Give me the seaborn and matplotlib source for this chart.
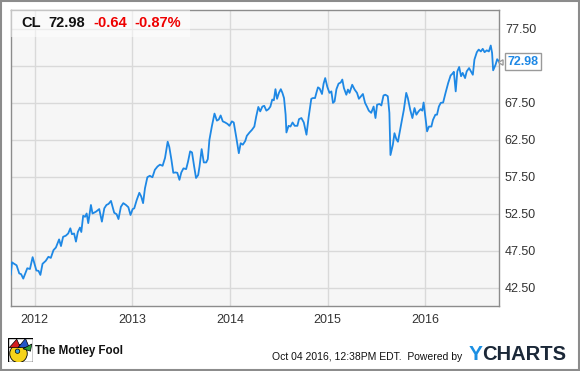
import pandas as pd
import numpy as np
import matplotlib
matplotlib.use('Agg')
import matplotlib.pyplot as plt
import matplotlib.dates as mdates
import matplotlib.patches as mpatches
import seaborn as sns

# CL (Colgate-Palmolive) weekly-ish closing price
dates = [
    '2011-10-04', '2011-10-09', '2011-10-17', '2011-10-26', '2011-11-05', '2011-11-12',
    '2011-11-20', '2011-12-05', '2011-12-15', '2011-12-25', '2012-01-08', '2012-01-16',
    '2012-01-23', '2012-01-31', '2012-02-12', '2012-02-22', '2012-03-02', '2012-03-12',
    '2012-03-21', '2012-04-02', '2012-04-09', '2012-04-17', '2012-04-27', '2012-05-06',
    '2012-05-14', '2012-05-20', '2012-05-28', '2012-06-04', '2012-06-11', '2012-06-19',
    '2012-06-24', '2012-07-01', '2012-07-08', '2012-07-14', '2012-07-20', '2012-07-30',
    '2012-08-05', '2012-08-18', '2012-08-30', '2012-09-09', '2012-09-18', '2012-09-26',
    '2012-10-04', '2012-10-13', '2012-10-19', '2012-10-25', '2012-11-03', '2012-11-10',
    '2012-11-19', '2012-11-28', '2012-12-08', '2012-12-17', '2012-12-25', '2013-01-02',
    '2013-01-08', '2013-01-17', '2013-01-27', '2013-02-03', '2013-02-10', '2013-02-17',
    '2013-02-26', '2013-03-07', '2013-03-17', '2013-03-26', '2013-04-05', '2013-04-14',
    '2013-04-24', '2013-05-03', '2013-05-13', '2013-05-19', '2013-05-27', '2013-06-03',
    '2013-06-11', '2013-06-18', '2013-06-26', '2013-07-03', '2013-07-11', '2013-07-21',
    '2013-07-28', '2013-08-05', '2013-08-12', '2013-08-20', '2013-08-27', '2013-09-04',
    '2013-09-09', '2013-09-17', '2013-09-25', '2013-10-04', '2013-10-10', '2013-10-16',
    '2013-10-25', '2013-11-04', '2013-11-13', '2013-11-20', '2013-11-27', '2013-12-05',
    '2013-12-14', '2013-12-23', '2013-12-30', '2014-01-08', '2014-01-15', '2014-01-24',
    '2014-02-03', '2014-02-10', '2014-02-18', '2014-02-27', '2014-03-05', '2014-03-15',
    '2014-03-24', '2014-04-02', '2014-04-09', '2014-04-17', '2014-04-24', '2014-05-02',
    '2014-05-09', '2014-05-17', '2014-05-25', '2014-06-01', '2014-06-08', '2014-06-14',
    '2014-06-20', '2014-06-26', '2014-07-03', '2014-07-10', '2014-07-16', '2014-07-22',
    '2014-07-28', '2014-07-31', '2014-08-08', '2014-08-15', '2014-08-23', '2014-08-31',
    '2014-09-10', '2014-09-16', '2014-09-25', '2014-10-04', '2014-10-14', '2014-10-22',
    '2014-11-01', '2014-11-07', '2014-11-15', '2014-11-20', '2014-11-26', '2014-12-02',
    '2014-12-11', '2014-12-17', '2014-12-23', '2014-12-31', '2015-01-08', '2015-01-15',
    '2015-01-21', '2015-01-27', '2015-02-03', '2015-02-11', '2015-02-19', '2015-02-25',
    '2015-03-03', '2015-03-12', '2015-03-18', '2015-03-24', '2015-04-03', '2015-04-12',
    '2015-04-21', '2015-04-28', '2015-05-06', '2015-05-13', '2015-05-21', '2015-05-28',
    '2015-06-04', '2015-06-13', '2015-06-22', '2015-06-29', '2015-07-05', '2015-07-14',
    '2015-07-21', '2015-07-29', '2015-08-05', '2015-08-14', '2015-08-20', '2015-08-24',
    '2015-09-02', '2015-09-08', '2015-09-15', '2015-09-21', '2015-09-27', '2015-10-06',
    '2015-10-13', '2015-10-22', '2015-10-28', '2015-11-06', '2015-11-14', '2015-11-22',
    '2015-11-29', '2015-12-07', '2015-12-15', '2015-12-21', '2015-12-26', '2016-01-02',
    '2016-01-08', '2016-01-15', '2016-01-24', '2016-01-30', '2016-02-08', '2016-02-14',
    '2016-02-21', '2016-02-28', '2016-03-08', '2016-03-17', '2016-03-27', '2016-04-05',
    '2016-04-12', '2016-04-17', '2016-04-24', '2016-04-30', '2016-05-07', '2016-05-14',
    '2016-05-20', '2016-05-29', '2016-06-04', '2016-06-13', '2016-06-20', '2016-06-27',
    '2016-07-03', '2016-07-12', '2016-07-19', '2016-07-27', '2016-08-03', '2016-08-10',
    '2016-08-18', '2016-08-26', '2016-09-02', '2016-09-07', '2016-09-11', '2016-09-20',
    '2016-09-26', '2016-10-04',
]
prices = [
    44.2, 45.9, 45.7, 45.5, 44.4, 44.3,
    43.7, 45.1, 45.0, 46.6, 44.8, 44.75,
    44.2, 45.7, 46.1, 46.65, 46.5, 47.55,
    47.9, 49.0, 48.1, 49.35, 49.5, 49.8,
    50.5, 49.7, 49.8, 48.7, 50.0, 50.6,
    50.0, 52.2, 52.05, 52.5, 51.2, 53.65,
    52.5, 52.75, 53.1, 51.4, 53.2, 53.65,
    53.8, 54.2, 53.4, 52.6, 52.4, 51.75,
    53.4, 53.9, 53.65, 53.35, 52.3, 53.1,
    53.2, 54.3, 55.3, 54.8, 53.9, 55.9,
    57.4, 57.6, 57.4, 58.4, 58.85, 59.1,
    58.95, 60.0, 62.2, 61.5, 59.75, 58.0,
    58.05, 58.0, 57.05, 58.05, 58.6, 58.5,
    59.5, 60.9, 60.75, 58.85, 57.3, 57.7,
    58.85, 61.2, 59.4, 59.4, 59.85, 62.45,
    64.25, 66.0, 65.05, 65.2, 65.75, 64.95,
    64.8, 64.6, 64.35, 64.95, 64.8, 62.9,
    60.65, 62.0, 61.8, 62.3, 63.0, 63.45,
    63.8, 64.25, 65.6, 66.9, 66.3, 66.95,
    67.05, 66.4, 66.6, 66.95, 67.9, 67.8,
    69.3, 68.0, 68.8, 69.3, 68.8, 68.1,
    65.85, 63.45, 64.35, 64.25, 64.8, 64.35,
    64.35, 65.25, 65.4, 64.8, 63.15, 65.5,
    68.0, 68.1, 68.1, 68.8, 69.55, 69.4,
    68.65, 70.05, 70.8, 69.6, 68.8, 69.0,
    67.45, 67.65, 69.3, 70.05, 70.2, 70.6,
    69.45, 68.55, 69.25, 68.8, 69.9, 69.25,
    68.8, 68.0, 68.35, 68.65, 67.45, 66.95,
    66.4, 66.1, 66.95, 65.4, 67.2, 67.3,
    67.1, 68.45, 68.55, 68.35, 66.1, 60.4,
    61.8, 63.35, 62.55, 62.2, 63.35, 65.15,
    66.5, 68.8, 68.1, 66.5, 65.4, 66.75,
    65.85, 66.3, 66.6, 66.4, 67.5, 65.4,
    63.6, 64.25, 64.25, 65.15, 65.85, 65.85,
    66.95, 67.45, 67.5, 68.8, 70.15, 71.15,
    71.4, 71.65, 69.0, 71.7, 72.3, 71.05,
    71.5, 70.8, 71.7, 72.15, 71.7, 71.25,
    73.3, 74.3, 74.65, 74.4, 74.75, 74.3,
    74.55, 74.4, 75.2, 74.2, 71.85, 72.6,
    73.35, 72.98,
]

year_ticks = ['2012-01-01', '2013-01-01', '2014-01-01', '2015-01-01', '2016-01-01']
year_labels = ['2012', '2013', '2014', '2015', '2016']
price_ticks = [42.5, 47.5, 52.5, 57.5, 62.5, 67.5, 72.5, 77.5]

ticker = 'CL'
last_price = '72.98'
change = '-0.64'
change_pct = '-0.87%'

df = pd.DataFrame({'Date': pd.to_datetime(dates), 'Price': prices})

line_color = '#1e88e5'
grid_color = '#d9d9d9'
frame_color = '#8c8c8c'

sns.set_style('white', {'axes.facecolor': '#f6f6f6'})
plt.rcParams['font.family'] = ['Liberation Sans', 'DejaVu Sans']

fig = plt.figure(figsize=(5.8, 3.71), dpi=100)
ax = fig.add_axes([10.7 / 580, 65 / 371, 488.6 / 580, 296 / 371])

sns.lineplot(data=df, x='Date', y='Price', ax=ax, color=line_color,
             linewidth=1.3, estimator=None, zorder=3)

ax.set_xlim(pd.Timestamp('2011-10-04'), pd.Timestamp('2016-10-04'))
ax.set_ylim(40, 80)
ax.set_xticks(pd.to_datetime(year_ticks))
ax.set_xticklabels(year_labels)
ax.set_yticks(price_ticks)
# the 72.50 label sits under the last-price tag, so it is left blank
ax.set_yticklabels(['' if v == 72.5 else f'{v:.2f}' for v in price_ticks])
ax.yaxis.tick_right()
ax.tick_params(axis='both', length=0, labelsize=9, colors='#333333')
ax.tick_params(axis='x', pad=6)
ax.tick_params(axis='y', pad=4)
ax.set_xlabel('')
ax.set_ylabel('')
ax.grid(True, color=grid_color, linewidth=1)
ax.set_axisbelow(True)
for s in ax.spines.values():
    s.set_visible(True)
    s.set_color(frame_color)
    s.set_linewidth(1)

# header box with quote
ax.add_patch(mpatches.Rectangle((0, 0.909), 0.367, 0.091, transform=ax.transAxes,
                                facecolor='white', alpha=0.5, edgecolor='none', zorder=4))
hdr_y = 0.955
ax.text(0.022, hdr_y, ticker, transform=ax.transAxes, fontsize=10.5, fontweight='bold',
        color='#111111', va='center', zorder=5)
ax.text(0.078, hdr_y, last_price, transform=ax.transAxes, fontsize=10.5, fontweight='bold',
        color='#111111', va='center', zorder=5)
ax.text(0.170, hdr_y, change, transform=ax.transAxes, fontsize=10.5, fontweight='bold',
        color='#ee0000', va='center', zorder=5)
ax.text(0.254, hdr_y, change_pct, transform=ax.transAxes, fontsize=10.5, fontweight='bold',
        color='#ee0000', va='center', zorder=5)

# last value tag on the right
ax.annotate(last_price, xy=(1, prices[-1]), xycoords=ax.get_yaxis_transform(),
            xytext=(6, 0), textcoords='offset points', ha='left', va='center',
            fontsize=9, fontweight='bold', color=line_color, annotation_clip=False,
            bbox=dict(boxstyle='square,pad=0.2', fc='white', ec='#9a9a9a', lw=1))
ax.plot([1.003], [prices[-1]], transform=ax.get_yaxis_transform(), marker=(3, 0, 90),
        markersize=4.5, markerfacecolor='white', markeredgecolor='#9a9a9a',
        clip_on=False, zorder=6)

# footer
fig.text(35 / 580, 1 - 351 / 371, 'The Motley Fool', fontsize=8.3, fontweight='bold',
         color='#111111', va='center', ha='left')
fig.text(272 / 580, 1 - 357 / 371, 'Oct 04 2016, 12:38PM EDT.  Powered by', fontsize=7.5,
         color='#111111', va='center', ha='left')
fig.text(469 / 580, 1 - 355 / 371, 'Y', fontsize=15, fontweight='bold', color='#1a8fe3',
         va='center', ha='left')
fig.text(482 / 580, 1 - 355 / 371, 'CHARTS', fontsize=14.5, fontweight='bold',
         color='#1b2838', va='center', ha='left')

# small jester logo
lax = fig.add_axes([8 / 580, 9 / 371, 25 / 580, 24 / 371])
lax.set_xlim(0, 1)
lax.set_ylim(0, 1)
lax.axis('off')
lax.add_patch(mpatches.Rectangle((0, 0), 1, 1, fc='white', ec='black', lw=1))
lax.add_patch(mpatches.Ellipse((0.42, 0.35), 0.7, 0.75, fc='#f5d31a', ec='black', lw=0.6))
lax.add_patch(mpatches.Polygon([[0.05, 0.6], [0.35, 0.95], [0.5, 0.6]], fc='#d42020', ec='black', lw=0.5))
lax.add_patch(mpatches.Polygon([[0.4, 0.6], [0.7, 0.98], [0.85, 0.6]], fc='#2255c8', ec='black', lw=0.5))
lax.add_patch(mpatches.Polygon([[0.6, 0.55], [0.95, 0.75], [0.9, 0.45]], fc='#2a9a3a', ec='black', lw=0.5))
lax.add_patch(mpatches.Circle((0.38, 0.45), 0.09, fc='#3aa0e0', ec='black', lw=0.5))

# outer frame
fig.patches.append(mpatches.Rectangle((0.002, 0.003), 0.996, 0.994, transform=fig.transFigure,
                                      fill=False, ec='#8c8c8c', lw=1.5))

fig.savefig('out.png', dpi=100)
